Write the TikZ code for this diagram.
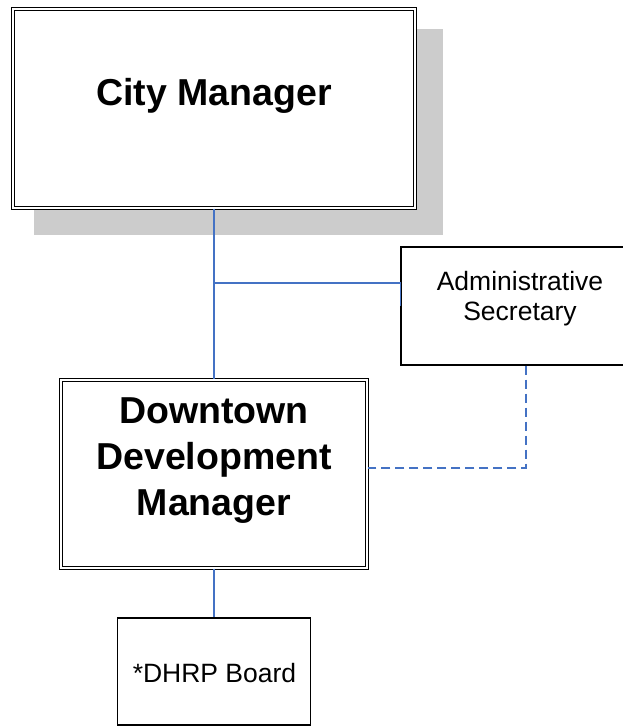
\documentclass[tikz,border=0pt]{standalone}
\usepackage{fontspec}
\setmainfont{Liberation Sans}
\begin{document}
\begin{tikzpicture}[x=1pt,y=-1pt,
  dbox/.style={draw=black,double=white,double distance=2pt,line width=1.3pt,fill=white,inner sep=0pt},
  sbox/.style={draw=black,line width=1.2pt,fill=white,inner sep=0pt},
  conn/.style={draw=lineblue,line width=1.4pt},
  bigtxt/.style={font=\fontsize{37.5}{46}\selectfont\bfseries,align=center,inner sep=0pt},
  smalltxt/.style={font=\fontsize{26.5}{30}\selectfont,align=center,inner sep=0pt}]
\definecolor{lineblue}{HTML}{4472C4}
\definecolor{shadowgray}{HTML}{CCCCCC}
\useasboundingbox (0,0) rectangle (623,726);
% shadow
\fill[shadowgray] (34,29) rectangle (443,235);
% boxes
\node[dbox,minimum width=402pt,minimum height=199pt] (cm) at (214,108.5) {};
\node[bigtxt] (cmtxt) at (214,96) {City Manager};
\node[sbox,minimum width=238pt,minimum height=118pt] (admin) at (520,306) {};
\node[smalltxt] (admintxt) at (520,299) {Administrative\\Secretary};
\node[dbox,minimum width=306pt,minimum height=188pt] (ddm) at (214,474) {};
\node[bigtxt] (ddmtxt) at (214,461) {Downtown\\Development\\Manager};
\node[sbox,minimum width=193pt,minimum height=107pt] (dhrp) at (214,671.5) {};
\node[smalltxt] (dhrptxt) at (214.5,673) {*DHRP Board};
% connectors
\coordinate (j1) at (214,283);
\coordinate (d1) at (526,468);
\draw[conn] (cm.south) -- (ddm.north);
\draw[conn] (j1) -- (j1 -| admin.west) -- (admin.west);
\draw[conn] (ddm.south) -- (dhrp.north);
\draw[conn,dash pattern=on 9pt off 5pt] (d1 |- admin.south) -- (d1) -- (d1 -| ddm.east);
\end{tikzpicture}
\end{document}
